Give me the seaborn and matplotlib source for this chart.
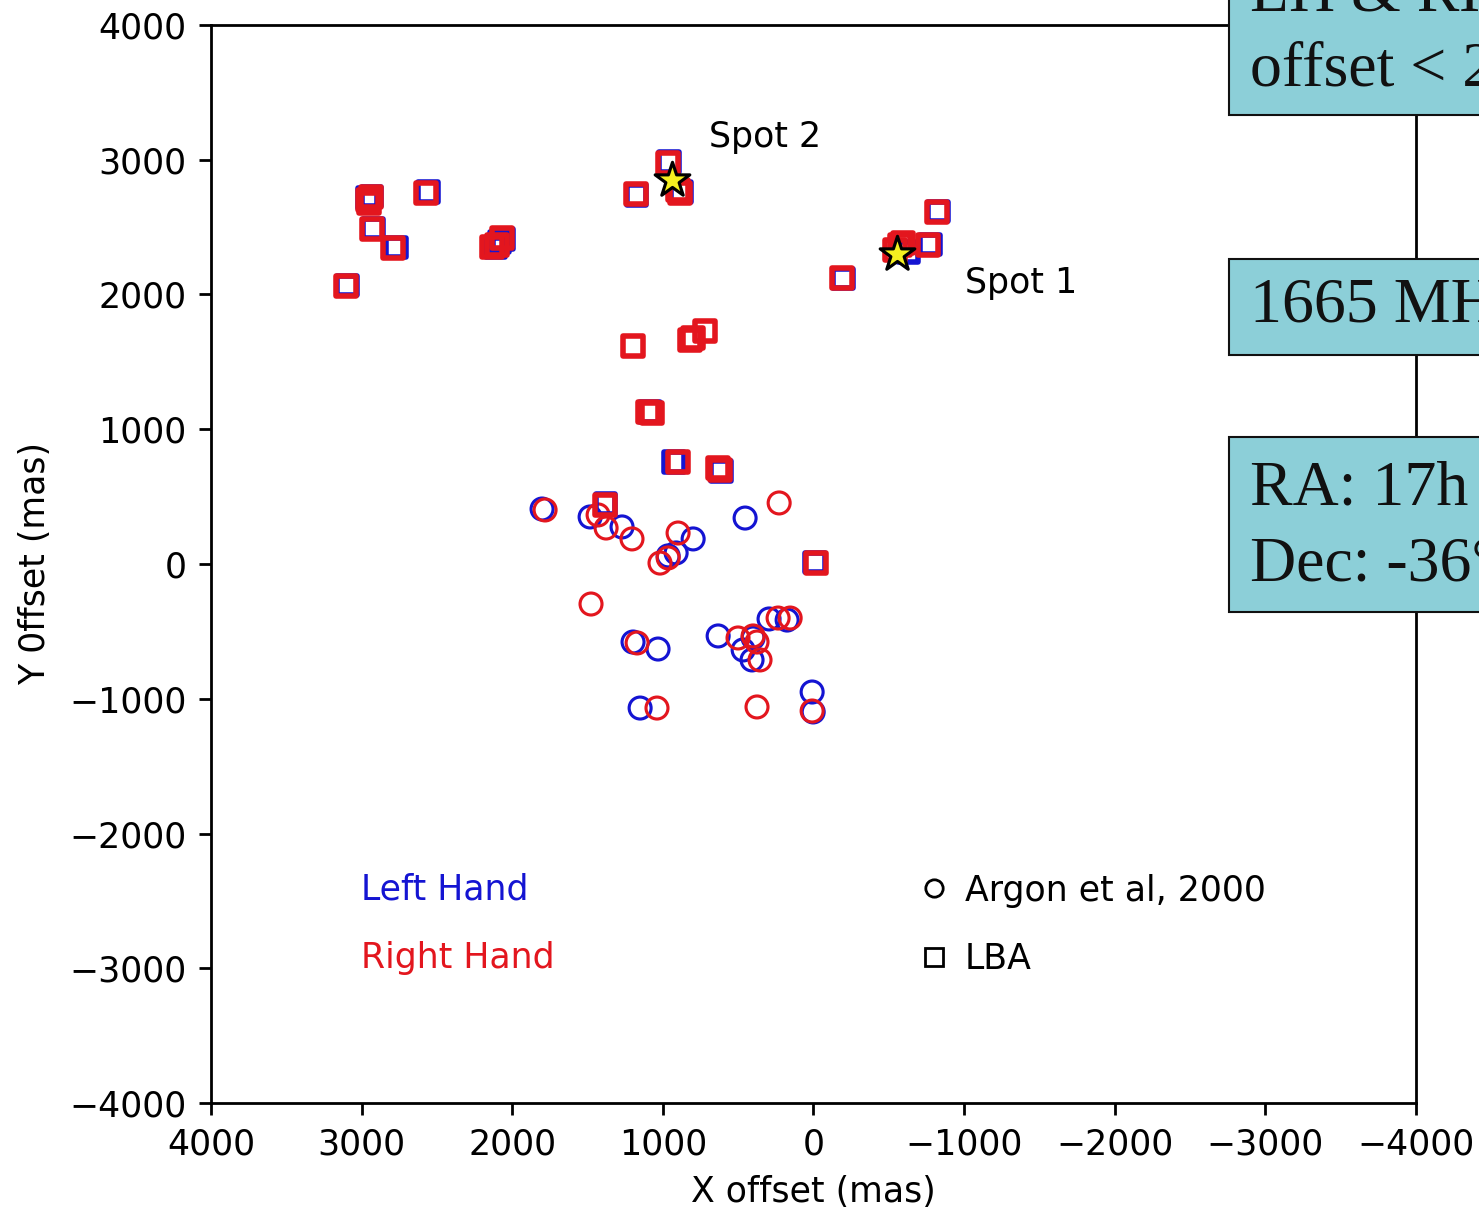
import numpy as np
import pandas as pd
import matplotlib
matplotlib.use("Agg")
import matplotlib.pyplot as plt
from matplotlib.patches import Rectangle
from matplotlib.lines import Line2D
import seaborn as sns

# --- Argon et al. (2000) maser spots (circles) ---
argon_lh_x = [1802, 1483, 1271, 799, 912, 965, 454, 1198, 1032, 633, 401, 467, 408,
              295, 175, 1151, 9, 2]
argon_lh_y = [408, 349, 275, 186, 82, 60, 341, -579, -631, -534, -549, -638, -712,
              -408, -416, -1069, -950, -1098]
argon_rh_x = [1782, 1430, 1377, 1205, 899, 965, 1019, 228, 1477, 1171, 501, 401, 375,
              355, 235, 155, 1039, 375, 9]
argon_rh_y = [401, 364, 267, 186, 230, 45, 7, 453, -297, -586, -549, -534, -579,
              -712, -401, -401, -1069, -1061, -1091]

# --- LBA maser spots (squares) ---
lba_lh_x = [2960, 2935, 2560, 2925, 2770, 3095, 2085, 2060, 2110, 960, 1175, 880,
            -828, -775, -628, -195, 1085, 925, 615, 1380, -10]
lba_lh_y = [2715, 2728, 2760, 2490, 2350, 2068, 2390, 2410, 2350, 2985, 2740, 2760,
            2615, 2370, 2315, 2118, 1128, 757, 690, 445, 10]
lba_rh_x = [2957, 2937, 2950, 2572, 2931, 2790, 3104, 2101, 2068, 2134, 965, 1178,
            886, 900, -821, -761, -575, -541, -595, -190, 1198, 799, 720, 820, 1072,
            1098, 899, 620, 633, 1384, -17]
lba_rh_y = [2702, 2724, 2680, 2753, 2486, 2345, 2063, 2367, 2419, 2353, 2976, 2746,
            2754, 2775, 2612, 2367, 2367, 2330, 2382, 2122, 1618, 1677, 1729, 1662,
            1121, 1128, 757, 698, 713, 438, 7]

# --- Reference spots ---
spot_names = ["Spot 1", "Spot 2"]
spot_x = [-555, 939]
spot_y = [2301, 2850]
spot_label_x = [-1007, 693]
spot_label_y = [2085, 3170]

hand_labels = ["Left Hand", "Right Hand"]
survey_labels = ["Argon et al, 2000", "LBA"]
box_texts = [["LH & RH maser", "offset < 20 mas"],
             ["1665 MHz"],
             ["RA: 17h 26m 42.5s", "Dec: -36\u00b0 09\u2032 18\u2033"]]

BLUE = "#1414d2"
RED = "#e3161e"

def frame(xs, ys, hand, survey):
    return pd.DataFrame({"x": xs, "y": ys, "hand": hand, "survey": survey})

df = pd.concat([
    frame(argon_lh_x, argon_lh_y, "LH", "Argon"),
    frame(argon_rh_x, argon_rh_y, "RH", "Argon"),
    frame(lba_lh_x, lba_lh_y, "LH", "LBA"),
    frame(lba_rh_x, lba_rh_y, "RH", "LBA"),
], ignore_index=True)

sns.set_style("ticks", rc={"axes.edgecolor": "black", "text.color": "black",
                           "axes.labelcolor": "black", "xtick.color": "black",
                           "ytick.color": "black"})
plt.rcParams["font.family"] = ["DejaVu Sans"]
plt.rcParams["font.size"] = 10

DPI = 250
fig = plt.figure(figsize=(1479 / DPI, 1211 / DPI), dpi=DPI)
ax = fig.add_axes([0.14266, 0.08918, 0.81474, 0.89018])

styles = {
    ("Argon", "LH"): dict(marker="o", s=40, lw=0.9, color=BLUE),
    ("Argon", "RH"): dict(marker="o", s=40, lw=0.9, color=RED),
    ("LBA", "LH"): dict(marker="s", s=32, lw=1.6, color=BLUE),
    ("LBA", "RH"): dict(marker="s", s=32, lw=1.6, color=RED),
}
for (survey, hand), st in styles.items():
    sub = df[(df["survey"] == survey) & (df["hand"] == hand)]
    sns.scatterplot(data=sub, x="x", y="y", ax=ax, marker=st["marker"], s=st["s"],
                    legend=False, zorder=3)
    coll = ax.collections[-1]
    coll.set_facecolor("none")
    coll.set_edgecolor(st["color"])
    coll.set_linewidth(st["lw"])

spots = pd.DataFrame({"x": spot_x, "y": spot_y, "name": spot_names})
sns.scatterplot(data=spots, x="x", y="y", ax=ax, marker="*", s=110,
                color="#f5f020", edgecolor="black", linewidth=0.9, legend=False, zorder=5)

for name, lx, ly in zip(spot_names, spot_label_x, spot_label_y):
    ax.text(lx, ly, name, fontsize=10, ha="left", va="center", color="black")

ax.set_xlim(4000, -4000)
ax.set_ylim(-4000, 4000)
ticks = np.arange(-4000, 4001, 1000)
ax.set_xticks(ticks)
ax.set_yticks(ticks)
ax.tick_params(labelsize=10, length=3.5, width=0.8, pad=3.5, direction="out")
ax.set_xlabel("X offset (mas)", fontsize=10, labelpad=4)
ax.set_ylabel("Y 0ffset (mas)", fontsize=10, labelpad=5)
for sp in ax.spines.values():
    sp.set_linewidth(0.8)
    sp.set_color("black")

# Hand colour key
ax.text(0.1245, 0.1977, hand_labels[0], transform=ax.transAxes, fontsize=10,
        color=BLUE, ha="left", va="center")
ax.text(0.1245, 0.1345, hand_labels[1], transform=ax.transAxes, fontsize=10,
        color=RED, ha="left", va="center")

# Survey marker key
handles = [Line2D([], [], ls="", marker="o", mfc="none", mec="black", mew=0.8, ms=5.0),
           Line2D([], [], ls="", marker="s", mfc="none", mec="black", mew=0.8, ms=5.0)]
ax.legend(handles, survey_labels, loc="upper left", bbox_to_anchor=(0.591, 0.2128),
          frameon=False, fontsize=10, handlelength=0.6, handletextpad=0.6,
          labelspacing=1.0, borderpad=0, borderaxespad=0)

# Annotation boxes on the right
BOX = "#8ccfd8"
boxes = [(0.831, 0.905, 0.25, 0.2), (0.831, 0.7069, 0.25, 0.0792),
         (0.831, 0.4946, 0.25, 0.1445)]
for (x0, y0, w, h) in boxes:
    fig.patches.append(Rectangle((x0, y0), w, h, transform=fig.transFigure,
                                 facecolor=BOX, edgecolor="#111111", lw=0.6, zorder=10))
text_rows = [[1.004, 0.942], [0.7465], [0.5954, 0.5334]]
for lines, ys in zip(box_texts, text_rows):
    for line, yy in zip(lines, ys):
        fig.text(0.845, yy, line, fontsize=18.4, family=["Liberation Serif"],
                 color="#111111", ha="left", va="center", zorder=11)

fig.savefig("out.png", dpi=DPI)
